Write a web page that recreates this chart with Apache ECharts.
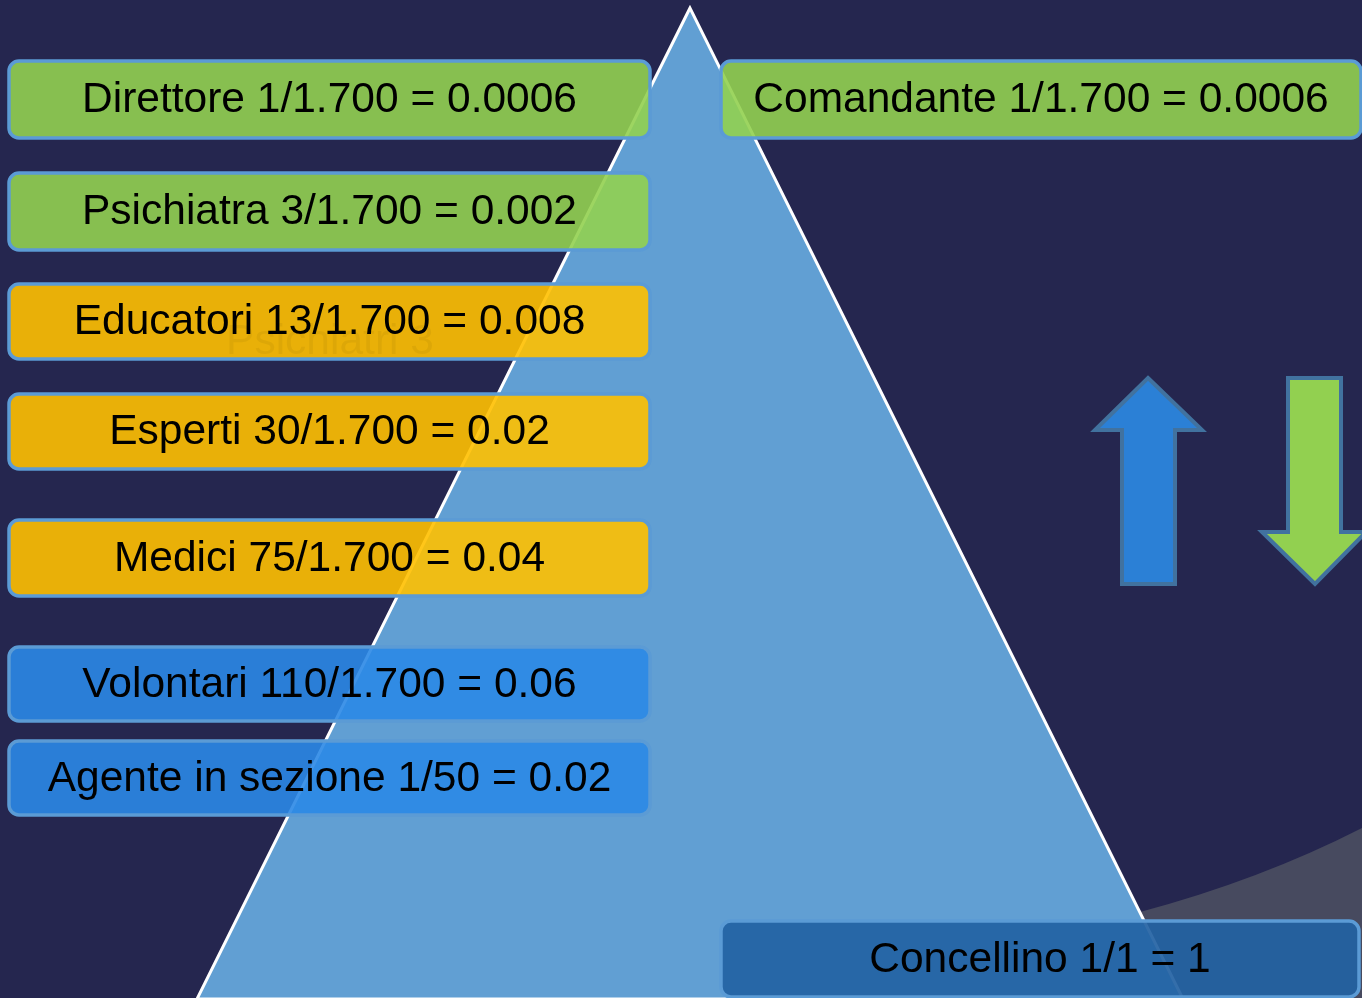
<!DOCTYPE html>
<html><head><meta charset="utf-8">
<script src="https://cdn.jsdelivr.net/npm/echarts@6/dist/echarts.min.js"></script>
<style>html,body{margin:0;padding:0;background:#25264f;}#c{width:1362px;height:998px;}</style>
</head><body><div id="c"></div>
<script>
// ---- data ----
const roles = ['Direttore', 'Psichiatra', 'Educatori', 'Esperti', 'Medici', 'Volontari', 'Agente in sezione', 'Comandante', 'Concellino'];
const numerators = [1, 3, 13, 30, 75, 110, 1, 1, 1];
const denominators = ['1.700', '1.700', '1.700', '1.700', '1.700', '1.700', '50', '1.700', '1'];
const ratios = ['0.0006', '0.002', '0.008', '0.02', '0.04', '0.06', '0.02', '0.0006', '1'];
const groups = ['green', 'green', 'yellow', 'yellow', 'yellow', 'blue', 'blue', 'green', 'dark'];

// ---- layout (positions in the 1362x998 frame) ----
const boxLayout = [
  [9, 61, 650, 138], [9, 173, 650, 250], [9, 284, 650, 359], [9, 394, 650, 469],
  [9, 520, 650, 596], [9, 647, 650, 721], [9, 741, 650, 815],
  [721, 61, 1361, 138], [721, 921, 1359, 997]
];
const fills = {
  green: 'rgba(146,208,80,0.9)', yellow: 'rgba(255,192,0,0.9)',
  blue: 'rgba(43,136,230,0.9)', dark: 'rgba(35,98,163,0.92)'
};
const triangle = [[690, 8], [197, 999], [1183, 999]];
const upArrow = [[1148, 378], [1202, 430], [1175, 430], [1175, 584], [1122, 584], [1122, 430], [1095, 430]];
const downArrow = [[1288, 378], [1341, 378], [1341, 532], [1366, 532], [1315, 584], [1262, 532], [1288, 532]];
const greyShape = { start: [1140, 912], ctrl: [1260, 880], end: [1362, 828], corners: [[1362, 998], [1140, 998]] };

const chart = echarts.init(document.getElementById('c'));
const FONT = '42.5px "Liberation Sans", Arial, sans-serif';

function poly(api, pts, style) {
  return { type: 'polygon', shape: { points: pts.map(p => api.coord(p)) }, style: style };
}

chart.setOption({
  backgroundColor: '#25264f',
  animation: false,
  grid: { left: 0, right: 0, top: 0, bottom: 0 },
  xAxis: { type: 'value', min: 0, max: 1362, show: false },
  yAxis: { type: 'value', min: 0, max: 998, inverse: true, show: false },
  series: [
    {
      type: 'custom', z: 0, data: [0], silent: true,
      renderItem: function (params, api) {
        const s = api.coord(greyShape.start), c = api.coord(greyShape.ctrl), e = api.coord(greyShape.end);
        const k = greyShape.corners.map(p => api.coord(p));
        const d = 'M' + s[0] + ' ' + s[1] + ' Q' + c[0] + ' ' + c[1] + ' ' + e[0] + ' ' + e[1] +
          ' L' + k[0][0] + ' ' + k[0][1] + ' L' + k[1][0] + ' ' + k[1][1] + ' Z';
        return { type: 'path', shape: { pathData: d }, style: { fill: '#474a5f' } };
      }
    },
    {
      type: 'custom', z: 1, data: [0], silent: true,
      renderItem: function (params, api) {
        return poly(api, triangle, { fill: '#619fd3', stroke: '#ffffff', lineWidth: 3 });
      }
    },
    {
      type: 'custom', z: 2, data: [0, 1], silent: true,
      renderItem: function (params, api) {
        const i = api.value(0);
        if (i === 0) return poly(api, upArrow, { fill: '#2b80d6', stroke: '#41729f', lineWidth: 4 });
        return poly(api, downArrow, { fill: '#92d050', stroke: '#41729f', lineWidth: 4 });
      }
    },
    {
      type: 'custom', z: 3, silent: true,
      data: roles.map((r, i) => [i]),
      renderItem: function (params, api) {
        const i = api.value(0);
        const b = boxLayout[i];
        const p0 = api.coord([b[0], b[1]]);
        const p1 = api.coord([b[2], b[3]]);
        const label = roles[i] + ' ' + numerators[i] + '/' + denominators[i] + ' = ' + ratios[i];
        const children = [
          { type: 'rect', shape: { x: p0[0], y: p0[1], width: p1[0] - p0[0], height: p1[1] - p0[1], r: 10 },
            style: { fill: fills[groups[i]], stroke: '#5b9bd5', lineWidth: 3.5 } },
          { type: 'text', style: { text: label, x: (p0[0] + p1[0]) / 2, y: (p0[1] + p1[1]) / 2 + 1,
            align: 'center', verticalAlign: 'middle', font: FONT, fill: '#000000' } }
        ];
        if (i === 2) {
          const g = api.coord([330, 342]);
          children.push({ type: 'text', style: { text: 'Psichiatri 3', x: g[0], y: g[1],
            align: 'center', verticalAlign: 'middle', font: FONT, fill: 'rgba(0,0,0,0.05)' } });
        }
        return { type: 'group', children: children };
      }
    }
  ]
});
</script></body></html>
